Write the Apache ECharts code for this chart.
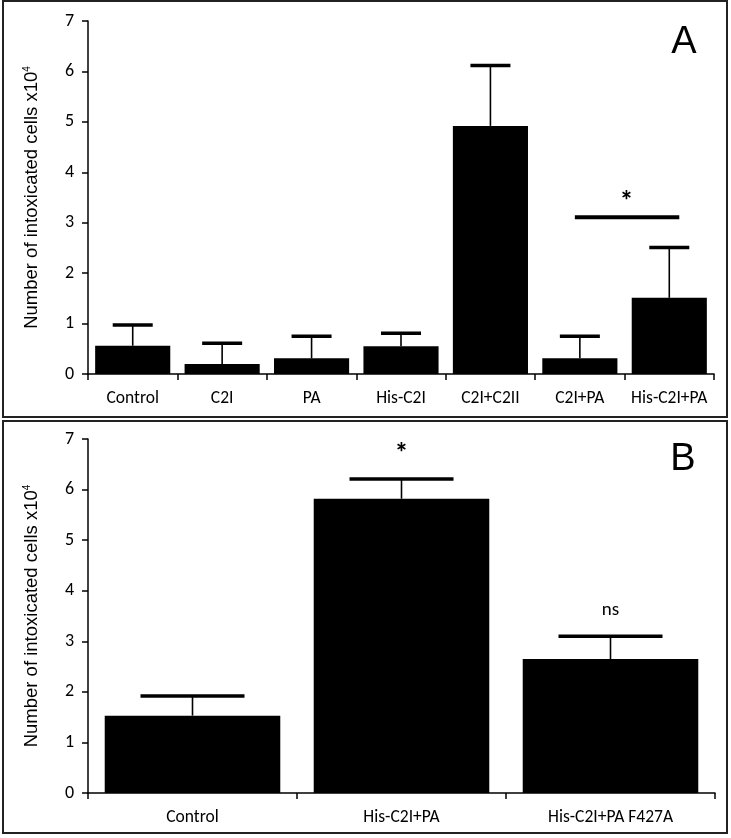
<!DOCTYPE html>
<html>
<head>
<meta charset="utf-8">
<script src="https://cdn.jsdelivr.net/npm/echarts@6/dist/echarts.min.js"></script>
<style>
  html, body { margin: 0; padding: 0; background: #fff; }
  #chart { width: 731px; height: 838px; }
</style>
</head>
<body>
<div id="chart"></div>
<script>
// panel A data
var catsA = ["Control", "C2I", "PA", "His-C2I", "C2I+C2II", "C2I+PA", "His-C2I+PA"];
var meanA = [0.56, 0.20, 0.31, 0.55, 4.92, 0.31, 1.51];
var errA = [0.41, 0.41, 0.44, 0.26, 1.20, 0.44, 1.00];
// significance bar between C2I+PA and His-C2I+PA
var sigA = { from: 5, to: 6, y: 3.11, starY: 3.45 };

// panel B data
var catsB = ["Control", "His-C2I+PA", "His-C2I+PA F427A"];
var meanB = [1.53, 5.82, 2.65];
var errB = [0.39, 0.39, 0.45];
var marksB = [{ idx: 1, y: 6.75, text: "*" }, { idx: 2, y: 3.62, text: "ns" }];

var yTicks = [0, 1, 2, 3, 4, 5, 6, 7];

var tickFont = 'Carlito, Roboto, "Liberation Sans", sans-serif';
var arial = 'Arial, "Liberation Sans", sans-serif';

(function () {
  var myChart = echarts.init(document.getElementById("chart"));

  function errData(mean, err) {
    return mean.map(function (m, i) { return [i, m, m + err[i]]; });
  }

  // error bar: thin stem + thick cap
  function errRender(capW) {
    return function (params, api) {
      var base = api.coord([api.value(0), api.value(1)]);
      var top = api.coord([api.value(0), api.value(2)]);
      return {
        type: "group",
        children: [
          { type: "line", shape: { x1: base[0], y1: base[1], x2: top[0], y2: top[1] },
            style: { stroke: "#000", lineWidth: 1.6 } },
          { type: "line", shape: { x1: top[0] - capW / 2, y1: top[1], x2: top[0] + capW / 2, y2: top[1] },
            style: { stroke: "#000", lineWidth: 3.5 } }
        ]
      };
    };
  }

  function yAxis(idx) {
    return {
      type: "value",
      gridIndex: idx,
      min: 0,
      max: 7,
      interval: 1,
      name: "Number of intoxicated cells x10{sup|4}",
      nameLocation: "middle",
      nameGap: 47,
      nameTextStyle: {
        fontFamily: arial,
        fontSize: 18.5,
        color: "#000",
        rich: { sup: { fontSize: 10, verticalAlign: "top", padding: [0, 0, 9, 0], fontFamily: arial, color: "#000" } }
      },
      axisLine: { show: true, lineStyle: { color: "#000", width: 1.5 } },
      axisTick: { show: true, length: 6, lineStyle: { color: "#000", width: 1.5 } },
      axisLabel: {
        color: "#000", fontSize: 18, fontFamily: tickFont, margin: 14,
        formatter: function (v) { return yTicks.indexOf(v) >= 0 ? String(v) : ""; }
      },
      splitLine: { show: false }
    };
  }

  function xAxis(idx, cats) {
    return {
      type: "category",
      gridIndex: idx,
      data: cats,
      axisLine: { lineStyle: { color: "#000", width: 1.5 } },
      axisTick: { show: true, length: 6, lineStyle: { color: "#000", width: 1.5 } },
      axisLabel: { color: "#000", fontSize: 17.5, fontFamily: tickFont, margin: 16, interval: 0 }
    };
  }

  var option = {
    animation: false,
    grid: [
      { left: 88, right: 17, top: 21, bottom: 464 },
      { left: 88, right: 16, top: 439, bottom: 45 }
    ],
    xAxis: [xAxis(0, catsA), xAxis(1, catsB)],
    yAxis: [yAxis(0), yAxis(1)],
    graphic: [
      { type: "rect", shape: { x: 3, y: 1, width: 724, height: 416 },
        style: { fill: "none", stroke: "#222", lineWidth: 2 } },
      { type: "rect", shape: { x: 3, y: 421, width: 724, height: 412 },
        style: { fill: "none", stroke: "#222", lineWidth: 2 } },
      { type: "text", x: 684, y: 43,
        style: { text: "A", fontSize: 38, fontFamily: arial, fill: "#000", align: "center", verticalAlign: "middle" } },
      { type: "text", x: 683, y: 460,
        style: { text: "B", fontSize: 38, fontFamily: arial, fill: "#000", align: "center", verticalAlign: "middle" } }
    ],
    series: [
      {
        type: "bar", xAxisIndex: 0, yAxisIndex: 0,
        data: meanA, barCategoryGap: "16%",
        itemStyle: { color: "#000" }
      },
      {
        type: "custom", xAxisIndex: 0, yAxisIndex: 0,
        data: errData(meanA, errA),
        renderItem: errRender(40), z: 3
      },
      {
        // significance bar and asterisk
        type: "custom", xAxisIndex: 0, yAxisIndex: 0,
        data: [[sigA.from, sigA.to, sigA.y, sigA.starY]],
        renderItem: function (params, api) {
          var a = api.coord([api.value(0), api.value(2)]);
          var b = api.coord([api.value(1), api.value(2)]);
          var s = api.coord([(api.value(0) + api.value(1)) / 2, api.value(3)]);
          return {
            type: "group",
            children: [
              { type: "line", shape: { x1: a[0] - 5, y1: a[1], x2: b[0] + 10, y2: b[1] },
                style: { stroke: "#000", lineWidth: 4 } },
              { type: "text", x: (a[0] + b[0]) / 2 + 2, y: s[1] + 3,
                style: { text: "*", fontSize: 28, fontWeight: "bold", fontFamily: tickFont, fill: "#000", align: "center", verticalAlign: "middle" } }
            ]
          };
        }
      },
      {
        type: "bar", xAxisIndex: 1, yAxisIndex: 1,
        data: meanB, barCategoryGap: "16%",
        itemStyle: { color: "#000" }
      },
      {
        type: "custom", xAxisIndex: 1, yAxisIndex: 1,
        data: errData(meanB, errB),
        renderItem: errRender(104), z: 3
      },
      {
        type: "custom", xAxisIndex: 1, yAxisIndex: 1,
        data: marksB.map(function (m) { return [m.idx, m.y]; }),
        renderItem: function (params, api) {
          var p = api.coord([api.value(0), api.value(1)]);
          var t = marksB[params.dataIndex].text;
          var star = t === "*";
          return {
            type: "text", x: p[0], y: star ? p[1] + 3 : p[1],
            style: { text: t, fontSize: star ? 28 : 19, fontWeight: star ? "bold" : "normal", fontFamily: tickFont, fill: "#000", align: "center", verticalAlign: "middle" }
          };
        }
      }
    ]
  };

  myChart.setOption(option);
  window.addEventListener("resize", function () {
    myChart.resize();
  });
})();
</script>
</body>
</html>
